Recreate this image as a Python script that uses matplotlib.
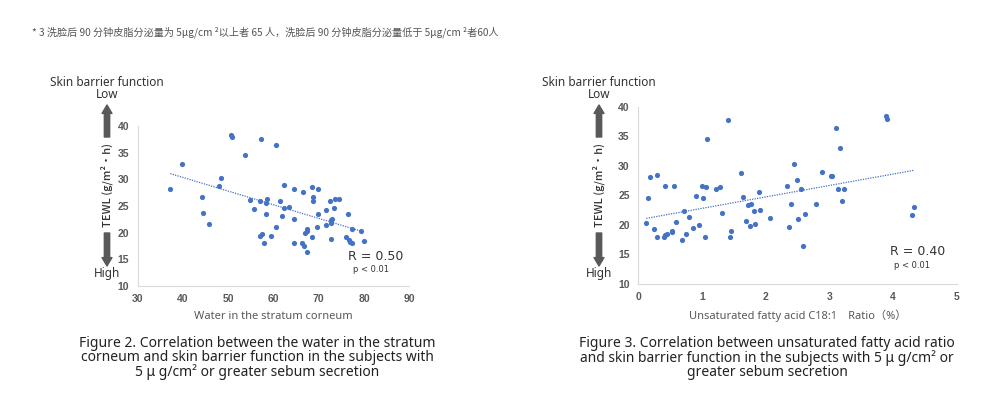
import numpy as np
import matplotlib
matplotlib.use('Agg')
import matplotlib.pyplot as plt

# Figure 2: water in stratum corneum vs TEWL
water = [37.2, 39.8, 44.3, 44.5, 45.8, 48.5, 47.9, 50.6, 50.8, 53.8,
         54.7, 55.6, 57.2, 57.1, 57.0, 57.5, 58.0, 58.5, 58.4, 58.4,
         59.5, 60.6, 60.6, 61.4, 61.8, 62.3, 62.3, 63.4, 64.6, 64.6,
         64.6, 66.5, 66.3, 66.8, 67.0, 67.3, 67.5, 67.5, 68.4, 68.4,
         68.8, 68.7, 69.9, 69.8, 69.6, 71.5, 71.7, 72.5, 72.6, 72.7,
         72.9, 72.7, 73.4, 73.5, 74.4, 76.5, 76.1, 76.6, 77.0, 77.3,
         77.4, 79.4, 80.0]
tewl_water = [28.2, 32.9, 26.7, 23.6, 21.7, 30.2, 28.7, 38.3, 37.9, 34.5,
              26.2, 24.5, 37.6, 25.9, 19.3, 19.7, 18.1, 26.4, 25.5, 23.5,
              19.4, 21.1, 36.4, 26.0, 23.1, 29.0, 24.6, 24.9, 28.2, 22.6,
              18.1, 27.6, 18.1, 17.5, 20.0, 20.4, 20.6, 16.4, 19.2, 28.5,
              26.6, 25.9, 28.1, 23.5, 21.1, 24.2, 21.5, 25.9, 18.8, 22.3,
              22.6, 21.9, 24.6, 26.3, 26.4, 23.5, 19.1, 18.6, 18.3, 18.0,
              20.7, 20.4, 18.4]

# Figure 3: unsaturated fatty acid C18:1 ratio vs TEWL
ratio = [0.13, 0.16, 0.19, 0.25, 0.29, 0.29, 0.41, 0.43, 0.45, 0.42,
         0.53, 0.54, 0.56, 0.60, 0.69, 0.72, 0.75, 0.80, 0.86, 0.91,
         0.96, 1.01, 1.02, 1.05, 1.07, 1.08, 1.22, 1.29, 1.32, 1.41,
         1.44, 1.46, 1.61, 1.64, 1.70, 1.73, 1.75, 1.77, 1.82, 1.83,
         1.90, 1.91, 2.07, 2.34, 2.36, 2.40, 2.45, 2.49, 2.50, 2.55,
         2.59, 2.61, 2.79, 2.88, 3.02, 3.04, 3.10, 3.13, 3.16, 3.19,
         3.23, 3.88, 3.90, 4.29, 4.32]
tewl_ratio = [20.3, 24.6, 28.1, 19.3, 18.0, 28.5, 18.0, 18.3, 18.4, 26.5,
              18.8, 19.0, 26.5, 20.5, 17.5, 22.4, 18.5, 21.4, 19.4, 24.9,
              19.9, 26.6, 24.6, 18.0, 26.4, 34.6, 26.0, 26.4, 22.0, 37.7,
              18.0, 19.0, 28.8, 24.7, 20.7, 23.4, 19.8, 23.6, 22.3, 20.1,
              25.6, 22.6, 21.1, 26.5, 19.7, 23.5, 30.3, 27.6, 21.0, 26.0,
              16.5, 21.8, 23.5, 29.0, 28.3, 28.2, 36.4, 26.0, 33.0, 24.1,
              26.0, 38.4, 38.0, 21.6, 23.1]

y_ticks = [10, 15, 20, 25, 30, 35, 40]

BLUE = '#4472C4'
TICK = '#595959'
DARK = '#333333'
FONT = ['Noto Sans', 'Noto Sans CJK JP', 'DejaVu Sans']
H = 397.0


def draw_panel(fig, rect, x, y, xticks, xlabel, r_text):
    ax = fig.add_axes(rect)
    ax.scatter(x, y, s=14, color=BLUE, zorder=3, linewidths=0)
    # linear trend line from the data
    k, b = np.polyfit(x, y, 1)
    xs = np.array([min(x), max(x)])
    ax.plot(xs, k * xs + b, linestyle=(0, (1, 1)), color=BLUE, lw=0.9)
    ax.set_xlim(xticks[0], xticks[-1])
    ax.set_ylim(y_ticks[0], y_ticks[-1])
    ax.set_xticks(xticks)
    ax.set_yticks(y_ticks)
    ax.tick_params(length=0, labelsize=7.5, labelcolor=TICK, pad=6)
    for lab in ax.get_xticklabels() + ax.get_yticklabels():
        lab.set_fontweight('bold')
        lab.set_family('Liberation Sans')
    for s in ['top', 'right']:
        ax.spines[s].set_visible(False)
    for s in ['left', 'bottom']:
        ax.spines[s].set_color('#d9d9d9')
        ax.spines[s].set_linewidth(0.8)
    ax.set_xlabel(xlabel, fontsize=8, color=TICK, family=FONT, labelpad=5)
    ax.text(0.875, 0.165, r_text, transform=ax.transAxes, fontsize=9,
            color='#333333', ha='center', family='DejaVu Sans')
    ax.text(0.86, 0.09, 'p < 0.01', transform=ax.transAxes, fontsize=6,
            color='#333333', ha='center', family='DejaVu Sans')
    return ax


def side_labels(fig, xc):
    kw = dict(xycoords='figure pixels', ha='center', va='center',
              color=DARK, family=FONT)
    fig.text(xc / 1000.0, 1 - 82 / H, 'Skin barrier function', ha='center',
             va='center', color=DARK, family=FONT, fontsize=8.5)
    plt.annotate('Low', xy=(xc, H - 95), fontsize=8.5, **kw)
    plt.annotate('High', xy=(xc, H - 274), fontsize=8.5, **kw)
    plt.annotate('TEWL (g/m²・h)', xy=(xc, H - 185), fontsize=8, rotation=90,
                 xycoords='figure pixels', ha='center', va='center',
                 color=DARK, fontweight='medium',
                 family=['Noto Sans CJK JP', 'DejaVu Sans'])
    arrow = dict(arrowstyle='simple,head_width=0.65,head_length=0.55,tail_width=0.35',
                 color=TICK, mutation_scale=11, shrinkA=0, shrinkB=0)
    plt.annotate('', xy=(xc, H - 105), xytext=(xc, H - 137),
                 xycoords='figure pixels', arrowprops=arrow)
    plt.annotate('', xy=(xc, H - 266), xytext=(xc, H - 233),
                 xycoords='figure pixels', arrowprops=arrow)


def main():
    fig = plt.figure(figsize=(10, 3.97), dpi=100)

    fig.text(0.032, 1 - 32 / H,
             '* 3 洗脸后 90 分钟皮脂分泌量为 5μg/cm ²以上者 65 人，洗脸后 90 分钟皮脂分泌量低于 5μg/cm ²者60人',
             fontsize=7.3, color='#555555', va='center',
             family=['Noto Sans CJK SC', 'DejaVu Sans'])

    draw_panel(fig, [0.1377, 1 - 286 / H, 0.2716, 160 / H], water, tewl_water,
               [30, 40, 50, 60, 70, 80, 90], 'Water in the stratum corneum',
               'R = 0.50')
    side_labels(fig, 107)

    draw_panel(fig, [0.638, 1 - 284 / H, 0.319, 177.3 / H], ratio, tewl_ratio,
               [0, 1, 2, 3, 4, 5], 'Unsaturated fatty acid C18:1　Ratio（%）',
               'R = 0.40')
    side_labels(fig, 599)

    cap = dict(fontsize=10, color='#222222', ha='center', va='center',
               family=FONT, linespacing=0.95)
    fig.text(0.257, 1 - 358 / H,
             'Figure 2. Correlation between the water in the stratum\n'
             'corneum and skin barrier function in the subjects with\n'
             '5 μ g/cm² or greater sebum secretion', **cap)
    fig.text(0.767, 1 - 358 / H,
             'Figure 3. Correlation between unsaturated fatty acid ratio\n'
             'and skin barrier function in the subjects with 5 μ g/cm² or\n'
             'greater sebum secretion', **cap)

    fig.savefig('out.png', dpi=100)
    plt.close(fig)


if __name__ == '__main__':
    main()
